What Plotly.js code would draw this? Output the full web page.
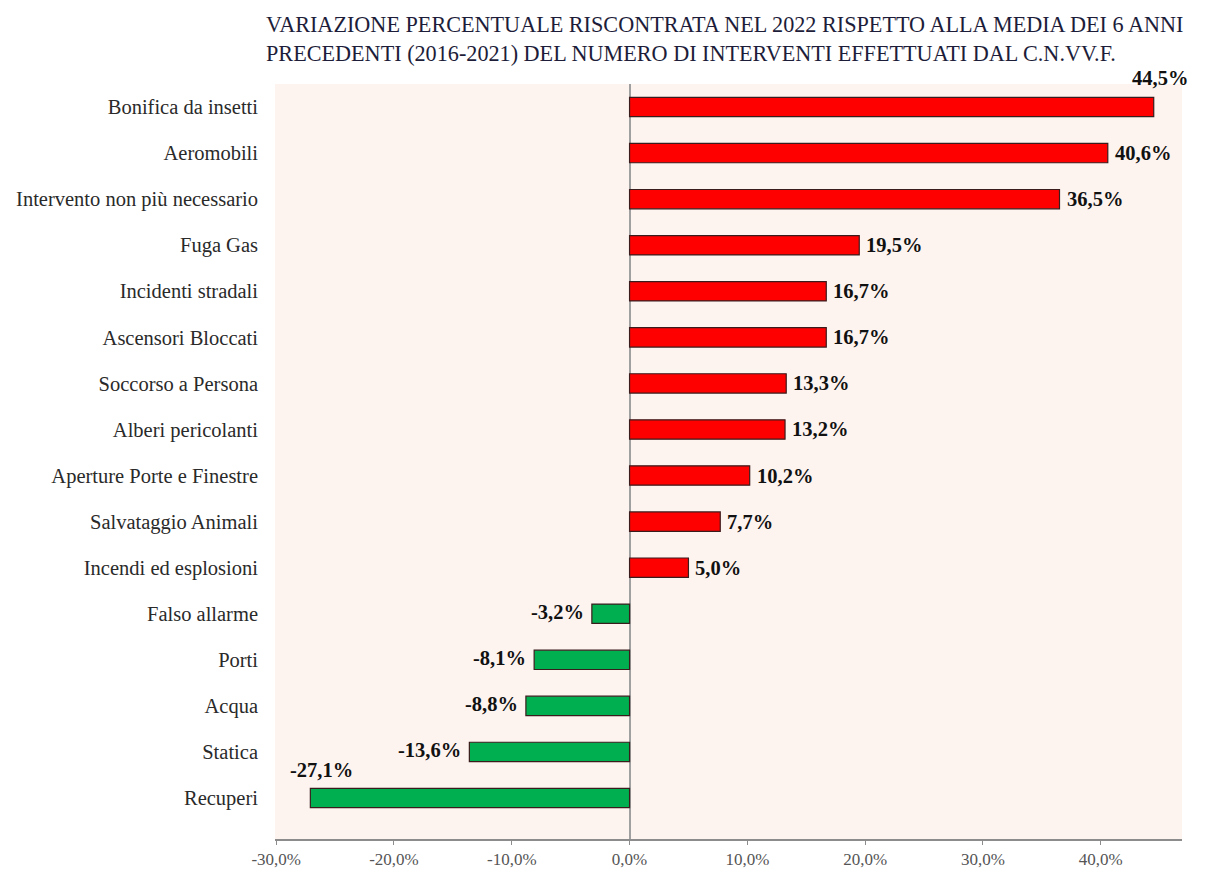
<!DOCTYPE html>
<html>
<head>
<meta charset="utf-8">
<script src="https://cdn.plot.ly/plotly-3.0.1.min.js"></script>
<style>html,body{margin:0;padding:0;background:#fff;}#chart{width:1205px;height:871px;}</style>
</head>
<body>
<div id="chart"></div>
<script>
const categories = [
  "Bonifica da insetti",
  "Aeromobili",
  "Intervento non più necessario",
  "Fuga Gas",
  "Incidenti stradali",
  "Ascensori Bloccati",
  "Soccorso a Persona",
  "Alberi pericolanti",
  "Aperture Porte e Finestre",
  "Salvataggio Animali",
  "Incendi ed esplosioni",
  "Falso allarme",
  "Porti",
  "Acqua",
  "Statica",
  "Recuperi"
];
const values = [44.5, 40.6, 36.5, 19.5, 16.7, 16.7, 13.3, 13.2, 10.2, 7.7, 5.0, -3.2, -8.1, -8.8, -13.6, -27.1];
const tickValues = [-30, -20, -10, 0, 10, 20, 30, 40];
const tickLabels = ["-30,0%", "-20,0%", "-10,0%", "0,0%", "10,0%", "20,0%", "30,0%", "40,0%"];

const FONT = 'Liberation Serif, Times New Roman, serif';
const fmt = v => v.toFixed(1).replace('.', ',') + '%';
const maxV = Math.max(...values), minV = Math.min(...values);

const annotations = values.map((v, i) => {
  const a = {x: v, y: categories[i], xref: 'x', yref: 'y', text: '<b>' + fmt(v) + '</b>',
    showarrow: false, font: {family: FONT, size: 20.5, color: '#111'}};
  if (v === maxV) { a.xanchor = 'center'; a.xshift = 6; a.yshift = 29; }
  else if (v === minV) { a.xanchor = 'center'; a.xshift = 11; a.yshift = 28; }
  else if (v >= 0) { a.xanchor = 'left'; a.xshift = 5; }
  else { a.xanchor = 'right'; a.xshift = -6; a.yshift = 2; }
  return a;
});

const trace = {
  type: 'bar', orientation: 'h',
  x: values, y: categories,
  width: 0.42,
  marker: {color: values.map(v => v >= 0 ? '#ff0000' : '#00b050'),
           line: {color: '#3b1c1c', width: 1.2}},
  hoverinfo: 'x+y'
};

const layout = {
  width: 1205, height: 871,
  margin: {l: 275, r: 23, t: 84, b: 32},
  paper_bgcolor: '#ffffff',
  plot_bgcolor: '#fdf4f0',
  showlegend: false,
  font: {family: FONT, color: '#222'},
  title: {
    text: 'VARIAZIONE PERCENTUALE RISCONTRATA NEL 2022 RISPETTO ALLA MEDIA DEI 6 ANNI<br>PRECEDENTI (2016-2021) DEL NUMERO DI INTERVENTI EFFETTUATI DAL C.N.VV.F.',
    x: 266/1205, xanchor: 'left', xref: 'container',
    y: 1 - 32/871, yanchor: 'middle', yref: 'container',
    font: {family: FONT, size: 22.2, color: '#1d1d3a'}
  },
  xaxis: {
    range: [-30.1, 46.9],
    tickvals: tickValues, ticktext: tickLabels,
    showgrid: false,
    zeroline: true, zerolinecolor: '#a0a0a0', zerolinewidth: 2,
    showline: true, linecolor: '#8c8c8c', linewidth: 2,
    ticks: 'outside', ticklen: 4, tickcolor: '#8c8c8c',
    tickfont: {family: FONT, size: 17, color: '#555'},
    fixedrange: true
  },
  yaxis: {
    type: 'category',
    autorange: 'reversed',
    showgrid: false, showline: false, zeroline: false,
    ticks: '', ticklabelstandoff: 16,
    tickfont: {family: FONT, size: 20.5, color: '#2a2a2a'},
    fixedrange: true
  },
  annotations: annotations
};

Plotly.newPlot('chart', [trace], layout, {displayModeBar: false, staticPlot: true});
</script>
</body>
</html>
